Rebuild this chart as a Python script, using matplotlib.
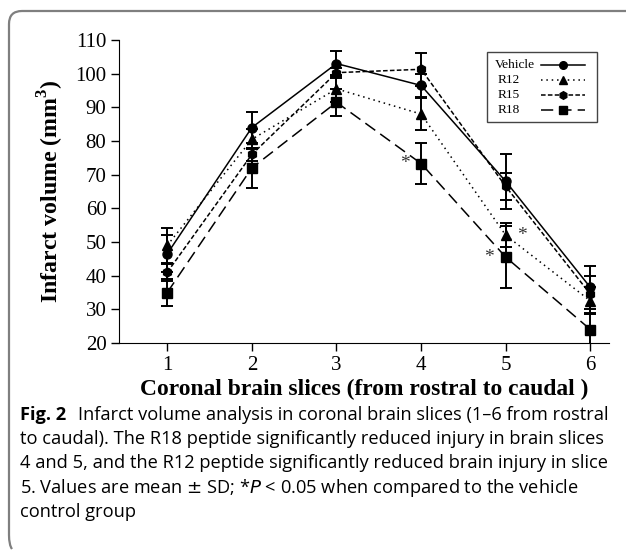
import matplotlib
matplotlib.use("Agg")
import matplotlib.pyplot as plt
from matplotlib.lines import Line2D
from matplotlib.patches import Rectangle, PathPatch
from matplotlib.path import Path

slices = [1, 2, 3, 4, 5, 6]

vehicle = [46.5, 84.0, 103.0, 96.5, 68.0, 36.5]
vehicle_sd = [5.5, 4.7, 3.8, 3.5, 8.2, 6.5]
r12 = [49.0, 80.5, 95.5, 88.0, 52.0, 32.5]
r12_sd = [5.3, 3.0, 4.0, 4.7, 3.5, 4.0]
r15 = [41.0, 76.0, 100.3, 101.3, 66.5, 34.5]
r15_sd = [2.5, 2.0, 1.5, 4.9, 4.0, 5.5]
r18 = [35.0, 72.0, 91.5, 73.3, 45.5, 24.0]
r18_sd = [4.0, 6.0, 4.0, 6.0, 9.2, 4.7]

# (slice, series value, side) for significance marks
stars = [(4, r18[3], -1), (5, r12[4], 1), (5, r18[4], -1)]

W, H = 627, 550
fig = plt.figure(figsize=(W / 100, H / 100), dpi=100)
ax = fig.add_axes([119 / W, 1 - 343 / H, (609 - 119) / W, (343 - 40) / H])


def px(x, y):
    # figure pixel (from top-left) -> figure fraction
    return x / W, 1 - y / H


serif = "Liberation Serif"
series = [
    ("Vehicle", vehicle, vehicle_sd, "o", "-"),
    ("R12", r12, r12_sd, "^", (0, (1, 2.5))),
    ("R15", r15, r15_sd, "h", (0, (3, 1.5))),
    ("R18", r18, r18_sd, "s", (0, (8, 4))),
]
for name, vals, sd, mk, ls in series:
    ax.errorbar(slices, vals, yerr=sd, fmt="none", ecolor="black",
                elinewidth=1.4, capsize=4.5, capthick=1.4, zorder=2)
    ax.plot(slices, vals, color="black", linestyle=ls, linewidth=1.1,
            marker=mk, markersize=6.5, label=name, zorder=3)

for x, y, side in stars:
    ax.annotate("*", (x, y), xytext=(side * 12, 0), textcoords="offset points",
                ha="center", va="center", fontsize=14, family=serif, color="#333333")

ax.set_xlim(0.43, 6.22)
ax.set_ylim(20, 110)
ax.set_xticks(slices)
ax.set_yticks(range(20, 111, 10))
ax.spines["top"].set_visible(False)
ax.spines["right"].set_visible(False)
ax.tick_params(direction="out", length=6, width=1, labelsize=15, pad=3)
for lab in ax.get_xticklabels() + ax.get_yticklabels():
    lab.set_family(serif)

ax.set_xlabel("Coronal brain slices (from rostral to caudal )", family=serif,
              fontsize=16.9, fontweight="bold", labelpad=3)
ax.set_ylabel("Infarct volume (mm$^\\mathregular{3}$)", family=serif,
              fontsize=17.2, fontweight="bold", labelpad=7)

# legend drawn as in the original: labels left, line samples right
x0, y0 = px(487, 52)
x1, y1 = px(597, 122)
fig.add_artist(Rectangle((x0, y1), x1 - x0, y0 - y1, transform=fig.transFigure,
                         fill=True, facecolor="white", edgecolor="#444444",
                         linewidth=1.0, zorder=5))
for i, (name, vals, sd, mk, ls) in enumerate(series):
    ry = 65 + 15 * i
    tx, ty = px(495 if i == 0 else 498, ry)
    fig.text(tx, ty, name, family=serif, fontsize=9.6, va="center", ha="left", zorder=6)
    la, yy = px(541, ry)
    lb, _ = px(585, ry)
    fig.add_artist(Line2D([la, (la + lb) / 2, lb], [yy, yy, yy], transform=fig.transFigure,
                          color="black", linestyle=ls, linewidth=1.1, marker=mk,
                          markersize=5.5, markevery=[1], zorder=6))

# rounded frame around the figure (top and left edge only)
verts = [(626, 11), (22, 11), (9, 11), (9, 24), (9, 535), (9, 545), (12, 549)]
codes = [Path.MOVETO, Path.LINETO, Path.CURVE3, Path.CURVE3, Path.LINETO,
         Path.CURVE3, Path.CURVE3]
fig.add_artist(PathPatch(Path([px(*v) for v in verts], codes), transform=fig.transFigure,
                         fill=False, edgecolor="#7f7f7f", linewidth=1.6))

cap_font = "Open Sans"
head = "Fig. 2"
first = "Infarct volume analysis in coronal brain slices (1\u20136 from rostral"
lines = [
    "to caudal). The R18 peptide significantly reduced injury in brain slices",
    "4 and 5, and the R12 peptide significantly reduced brain injury in slice",
    "5. Values are mean $\\pm$ SD; *$\\it{P}$ < 0.05 when compared to the vehicle",
    "control group",
]
renderer = fig.canvas.get_renderer()

# fit the caption font so the first line spans the same width as the original
fs = 12.0
for _ in range(3):
    a = fig.text(0, 0, head, family=cap_font, fontweight="bold", fontsize=fs)
    b = fig.text(0, 0, first, family=cap_font, fontsize=fs)
    wa = a.get_window_extent(renderer).width
    wb = b.get_window_extent(renderer).width
    a.remove()
    b.remove()
    fs *= 588 / (wa + wb + 0.9 * fs)

t = fig.text(*px(20, 415), head, family=cap_font, fontweight="bold",
             fontsize=fs, va="center", ha="left")
wa = t.get_window_extent(renderer).width
fig.text(*px(20 + wa + 0.9 * fs, 415), first, family=cap_font, fontsize=fs,
         va="center", ha="left")
for i, s in enumerate(lines):
    fig.text(*px(20, 439 + 24.3 * i), s, family=cap_font, fontsize=fs,
             va="center", ha="left", math_fontfamily="dejavusans")

fig.savefig("out.png", dpi=100)
